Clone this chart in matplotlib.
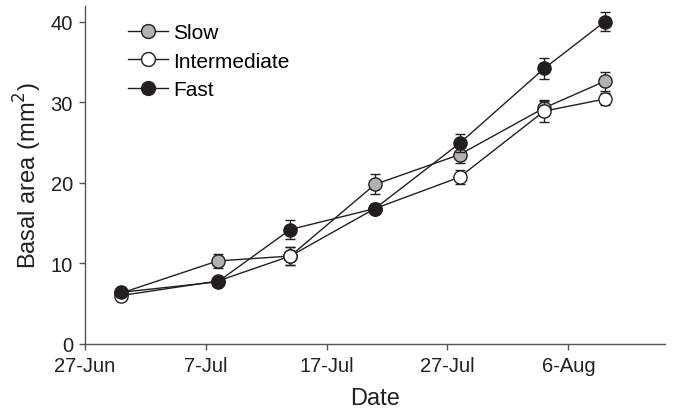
import matplotlib
matplotlib.use("Agg")
import matplotlib.pyplot as plt
import datetime as dt
from matplotlib.lines import Line2D

plt.rcParams['font.family'] = ['Liberation Sans', 'DejaVu Sans']

dates = ["2013-06-30", "2013-07-08", "2013-07-14", "2013-07-21",
         "2013-07-28", "2013-08-04", "2013-08-09"]
slow = [6.3, 10.3, 10.9, 19.8, 23.5, 29.3, 32.6]
slow_err = [0.4, 0.9, 1.1, 1.25, 1.1, 0.9, 1.15]
intermediate = [6.0, 7.8, 10.9, 16.8, 20.7, 28.9, 30.4]
intermediate_err = [0.3, 0.3, 1.1, 0.6, 0.9, 1.35, 0.8]
fast = [6.4, 7.7, 14.2, 16.8, 24.9, 34.2, 40.0]
fast_err = [0.4, 0.4, 1.2, 0.6, 1.1, 1.25, 1.2]

tick_dates = ["2013-06-27", "2013-07-07", "2013-07-17", "2013-07-27", "2013-08-06"]
tick_labels = ["27-Jun", "7-Jul", "17-Jul", "27-Jul", "6-Aug"]
yticks = [0, 10, 20, 30, 40]

x = [dt.datetime.strptime(d, "%Y-%m-%d") for d in dates]
xt = [dt.datetime.strptime(d, "%Y-%m-%d") for d in tick_dates]

fig = plt.figure(figsize=(6.78, 4.14), dpi=100)
ax = fig.add_axes([0.125, 0.167, 0.856, 0.817])

lc = '#231f20'
series = [("Slow", slow, slow_err, '#b2b2b2'),
          ("Intermediate", intermediate, intermediate_err, 'white'),
          ("Fast", fast, fast_err, '#231f20')]
for i, (name, vals, err, fc) in enumerate(series):
    ax.errorbar(x, vals, yerr=err, color=lc, lw=1.0, marker='o', ms=9.5,
                mfc=fc, mec=lc, mew=1.0, capsize=3.5, elinewidth=1.0,
                capthick=1.0, label=name, zorder=3 + i)

ax.set_xlim(dt.datetime(2013, 6, 27), dt.datetime(2013, 8, 14))
ax.set_ylim(0, 42)
ax.set_xticks(xt)
ax.set_xticklabels(tick_labels)
ax.set_yticks(yticks)
ax.spines['top'].set_visible(False)
ax.spines['right'].set_visible(False)
for s in ['left', 'bottom']:
    ax.spines[s].set_color('#555555')
    ax.spines[s].set_linewidth(1.0)
ax.tick_params(axis='both', labelsize=14.5, length=4.5, width=1.0, color='#555555',
               labelcolor='#231f20')
ax.tick_params(axis='x', pad=4)
ax.tick_params(axis='y', pad=4)
ax.set_xlabel("Date", fontsize=17, color='#231f20', labelpad=9)
ax.set_ylabel("Basal area (mm$^2$)", fontsize=17, color='#231f20', labelpad=5)

lh = [Line2D([0], [0], color=lc, lw=1.0, marker='o', ms=10, mfc=fc, mec=lc, mew=1.0)
      for (_, _, _, fc) in series]
ax.legend(lh, [s[0] for s in series], loc='upper left', bbox_to_anchor=(0.053, 0.985),
          frameon=False, fontsize=15, handlelength=1.9, handletextpad=0.25,
          labelspacing=0.45, borderaxespad=0.2)

fig.savefig("out.png", dpi=100)
